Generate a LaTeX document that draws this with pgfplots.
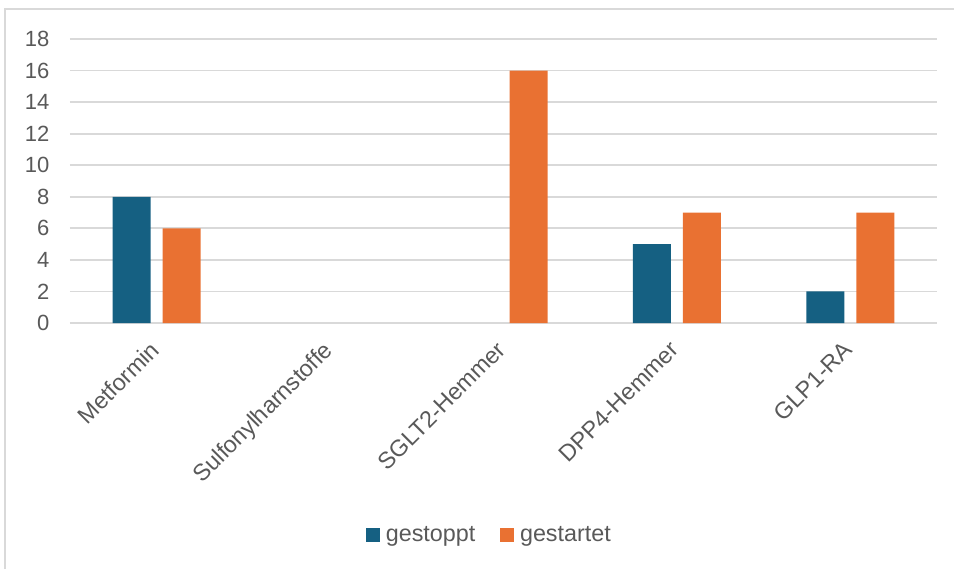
\documentclass[border=0pt]{standalone}
\usepackage{pgfplots}
\pgfplotsset{compat=1.18}
\usepackage{fontspec}
\setmainfont{Liberation Sans}
\definecolor{cblue}{HTML}{156082}
\definecolor{corange}{HTML}{E97132}
\definecolor{ctext}{HTML}{595959}
\definecolor{cgrid}{HTML}{D9D9D9}
\begin{document}
\begin{tikzpicture}[x=1pt,y=1pt]
\path[use as bounding box] (0,0) rectangle (715.5,426.75);
\draw[cgrid, line width=1.4pt] (3.5,0) -- (3.5,420) -- (715.5,420);
\begin{axis}[
  at={(52.5pt,184.5pt)}, anchor=south west,
  scale only axis, width=650.25pt, height=213pt,
  ybar=9pt, bar width=28.5pt,
  xmin=-0.5, xmax=4.5, ymin=0, ymax=18,
  xtick={0,1,2,3,4},
  xticklabels={Metformin,Sulfonylharnstoffe,SGLT2-Hemmer,DPP4-Hemmer,GLP1-RA},
  ytick={0,2,...,18},
  axis line style={draw=none},
  major tick length=0pt,
  ymajorgrids, grid style={cgrid, line width=1.4pt},
  tick label style={text=ctext},
  /pgf/number format/assume math mode=true,
  yticklabel style={font=\fontsize{16.5}{19}\selectfont, xshift=-12pt},
  xticklabel style={font=\fontsize{17.5}{20}\selectfont, xshift=-6pt, yshift=-12.5pt, rotate=45, anchor=north east, inner sep=0pt},
  legend columns=2,
  legend style={draw=none, fill=none, font=\fontsize{17.5}{20}\selectfont, text=ctext,
    at={(axis description cs:0.486,-0.746)}, anchor=center,
    /tikz/every even column/.append style={column sep=14pt},
    nodes={inner xsep=4.5pt}},
  legend image code/.code={\fill[#1] (0pt,-5.25pt) rectangle (10.5pt,5.25pt);},
]
\addplot[fill=cblue, draw=none] coordinates {(0,8) (3,5) (4,2)};
\addplot[fill=corange, draw=none] coordinates {(0,6) (2,16) (3,7) (4,7)};
\legend{gestoppt, gestartet}
\end{axis}
\end{tikzpicture}
\end{document}
